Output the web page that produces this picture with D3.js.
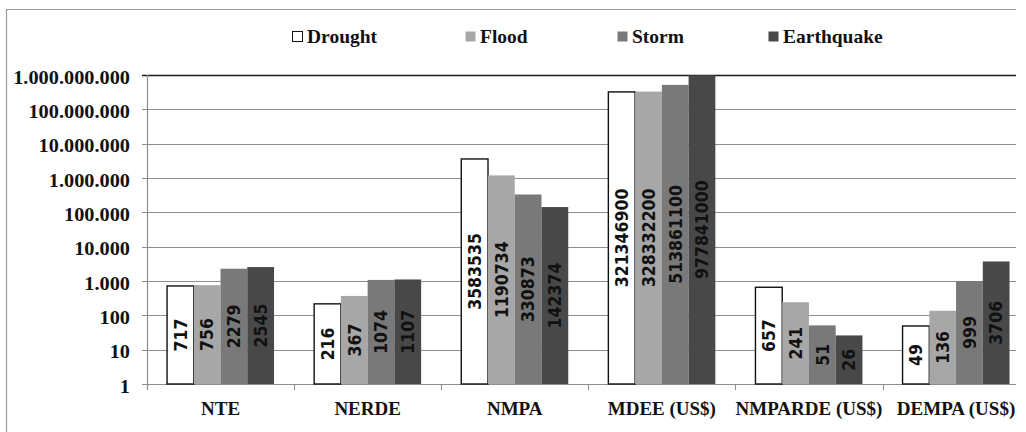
<!DOCTYPE html>
<html>
<head>
<meta charset="utf-8">
<script src="https://cdn.jsdelivr.net/npm/d3@7"></script>
<style>
  body { margin: 0; background: #fff; }
  svg { display: block; }
</style>
</head>
<body>
<div class="chart"></div>
<script>
// categories and series
const categories = ['NTE', 'NERDE', 'NMPA', 'MDEE (US$)', 'NMPARDE (US$)', 'DEMPA (US$)'];
const series = ['Drought', 'Flood', 'Storm', 'Earthquake'];

// one array per series, in category order
const drought    = [717, 216, 3583535, 321346900, 657, 49];
const flood      = [756, 367, 1190734, 328332200, 241, 136];
const storm      = [2279, 1074, 330873, 513861100, 51, 999];
const earthquake = [2545, 1107, 142374, 977841000, 26, 3706];

const yTicks = [1, 10, 100, 1000, 10000, 100000, 1000000, 10000000, 100000000, 1000000000];

const colors = {Drought: '#ffffff', Flood: '#a7a7a7', Storm: '#797979', Earthquake: '#484848'};
const legendX = [292, 465, 617, 768];

const SERIF = 'Liberation Serif';
const SANS = 'DejaVu Sans Condensed';

function makeChart() {
  const width = 1026;
  const height = 432;
  const margin = {top: 75, left: 147, bottom: 48};
  const plotBottom = height - margin.bottom;
  const step = 147.1;
  const plotRight = 1016; // picture is cropped here

  const svg = d3.select('.chart').append('svg')
    .attr('width', width)
    .attr('height', height);

  // outer frame (only top and left are visible)
  svg.append('path')
    .attr('d', `M6.5,${height} V9.5 H${plotRight}`)
    .attr('fill', 'none')
    .attr('stroke', '#9a9a9a')
    .attr('stroke-width', 1.2);

  const x0 = d3.scaleBand()
    .domain(categories)
    .range([margin.left, margin.left + step * categories.length])
    .padding(0);

  const x1 = d3.scaleBand()
    .domain(series)
    .range([0, x0.bandwidth()])
    .paddingInner(0)
    .paddingOuter(0.75);

  const y = d3.scaleLog()
    .domain([1, 1e9])
    .range([plotBottom, margin.top]);

  const fmt = d3.formatLocale({decimal: ',', thousands: '.', grouping: [3], currency: ['', '']}).format(',d');

  // gridlines
  svg.append('g')
    .selectAll('line')
    .data(yTicks)
    .join('line')
    .attr('x1', margin.left - 5)
    .attr('x2', plotRight)
    .attr('y1', d => Math.round(y(d)) + 0.5)
    .attr('y2', d => Math.round(y(d)) + 0.5)
    .attr('stroke', (d, i) => i === yTicks.length - 1 ? '#1a1a1a' : '#8e8e8e')
    .attr('stroke-width', (d, i) => i === yTicks.length - 1 ? 1.6 : 1.2);

  // y labels (slightly wide, like the source picture)
  svg.append('g')
    .selectAll('text')
    .data(yTicks)
    .join('text')
    .attr('transform', d => `translate(130,${y(d) + 2}) scale(1.07,1)`)
    .attr('dy', '0.35em')
    .attr('text-anchor', 'end')
    .attr('font-family', SERIF)
    .attr('font-weight', 'bold')
    .attr('font-size', 19)
    .attr('fill', '#111')
    .text(d => fmt(d));

  // bars
  const rows = categories.map((c, i) => ({
    cat: c,
    vals: [
      {key: 'Drought', v: drought[i]},
      {key: 'Flood', v: flood[i]},
      {key: 'Storm', v: storm[i]},
      {key: 'Earthquake', v: earthquake[i]}
    ]
  }));

  const groups = svg.append('g')
    .selectAll('g')
    .data(rows)
    .join('g')
    .attr('transform', d => `translate(${x0(d.cat)},0)`);

  groups.selectAll('rect')
    .data(d => d.vals)
    .join('rect')
    .attr('x', d => x1(d.key))
    .attr('y', d => y(d.v))
    .attr('width', x1.bandwidth())
    .attr('height', d => plotBottom - y(d.v))
    .attr('fill', d => colors[d.key])
    .attr('stroke', d => d.key === 'Drought' ? '#111' : 'none')
    .attr('stroke-width', 1.4);

  // value labels, centered in each bar, rotated
  groups.selectAll('text')
    .data(d => d.vals)
    .join('text')
    .attr('transform', d => {
      const cx = x1(d.key) + x1.bandwidth() / 2;
      const cy = (y(d.v) + plotBottom) / 2;
      return `translate(${cx},${cy}) rotate(-90)`;
    })
    .attr('text-anchor', 'middle')
    .attr('dy', '0.36em')
    .attr('font-family', SANS)
    .attr('font-weight', 'bold')
    .attr('font-size', 17.5)
    .attr('fill', '#111')
    .text(d => d.v);

  // axes lines
  svg.append('line')
    .attr('x1', margin.left + 0.5).attr('x2', margin.left + 0.5)
    .attr('y1', margin.top).attr('y2', plotBottom + 6)
    .attr('stroke', '#8e8e8e').attr('stroke-width', 1.2);

  svg.append('g')
    .selectAll('line')
    .data(categories.slice(1))
    .join('line')
    .attr('x1', d => Math.round(x0(d)) + 0.5)
    .attr('x2', d => Math.round(x0(d)) + 0.5)
    .attr('y1', plotBottom)
    .attr('y2', plotBottom + 6)
    .attr('stroke', '#8e8e8e');

  // category labels
  svg.append('g')
    .selectAll('text')
    .data(categories)
    .join('text')
    .attr('x', d => x0(d) + x0.bandwidth() / 2)
    .attr('y', 414.5)
    .attr('text-anchor', 'middle')
    .attr('font-family', SERIF)
    .attr('font-weight', 'bold')
    .attr('font-size', 19)
    .attr('fill', '#111')
    .text(d => d);

  // legend
  const legend = svg.append('g')
    .selectAll('g')
    .data(series)
    .join('g')
    .attr('transform', (d, i) => `translate(${legendX[i]},31)`);

  legend.append('rect')
    .attr('x', 0.5).attr('y', 0.5)
    .attr('width', 10).attr('height', 10)
    .attr('fill', d => colors[d])
    .attr('stroke', d => d === 'Drought' ? '#111' : 'none');

  legend.append('text')
    .attr('x', 15)
    .attr('y', 11.5)
    .attr('font-family', SERIF)
    .attr('font-weight', 'bold')
    .attr('font-size', 19.5)
    .attr('fill', '#111')
    .text(d => d);
}

makeChart();
</script>
</body>
</html>
